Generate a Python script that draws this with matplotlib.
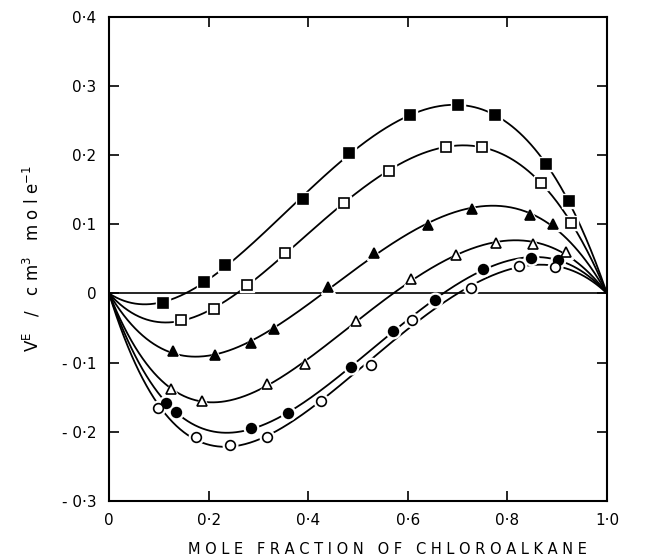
import numpy as np
import matplotlib.pyplot as plt
from matplotlib.ticker import FixedLocator, FixedFormatter

# filled squares
x_fsq = [0.108, 0.191, 0.233, 0.390, 0.481, 0.605, 0.700, 0.776, 0.877, 0.923]
y_fsq = [-0.014, 0.016, 0.041, 0.137, 0.203, 0.258, 0.272, 0.258, 0.187, 0.134]
# open squares
x_osq = [0.144, 0.211, 0.278, 0.354, 0.472, 0.562, 0.677, 0.750, 0.868, 0.927]
y_osq = [-0.039, -0.023, 0.012, 0.059, 0.130, 0.177, 0.212, 0.212, 0.160, 0.102]
# filled triangles
x_ftr = [0.128, 0.213, 0.285, 0.332, 0.440, 0.532, 0.641, 0.729, 0.845, 0.891]
y_ftr = [-0.083, -0.089, -0.072, -0.052, 0.009, 0.058, 0.099, 0.122, 0.114, 0.101]
# open triangles
x_otr = [0.125, 0.186, 0.318, 0.393, 0.497, 0.607, 0.697, 0.778, 0.851, 0.917]
y_otr = [-0.138, -0.156, -0.131, -0.102, -0.040, 0.021, 0.055, 0.073, 0.072, 0.060]
# filled circles
x_fci = [0.114, 0.134, 0.286, 0.360, 0.485, 0.570, 0.654, 0.751, 0.847, 0.901]
y_fci = [-0.158, -0.171, -0.195, -0.173, -0.107, -0.054, -0.010, 0.035, 0.051, 0.049]
# open circles
x_oci = [0.099, 0.174, 0.243, 0.318, 0.425, 0.527, 0.609, 0.726, 0.823, 0.895]
y_oci = [-0.166, -0.208, -0.219, -0.207, -0.155, -0.103, -0.038, 0.008, 0.040, 0.038]

series = [
    (x_fsq, y_fsq, 's', 'black'),
    (x_osq, y_osq, 's', 'white'),
    (x_ftr, y_ftr, '^', 'black'),
    (x_otr, y_otr, '^', 'white'),
    (x_fci, y_fci, 'o', 'black'),
    (x_oci, y_oci, 'o', 'white'),
]


def rk_fit(x, y, order=4):
    # Redlich-Kister type smoothing curve: x(1-x) * sum a_k (2x-1)^k
    x = np.asarray(x)
    y = np.asarray(y)
    A = np.column_stack([x * (1 - x) * (2 * x - 1) ** k for k in range(order)])
    coef, *_ = np.linalg.lstsq(A, y, rcond=None)
    xx = np.linspace(0, 1, 400)
    B = np.column_stack([xx * (1 - xx) * (2 * xx - 1) ** k for k in range(order)])
    return xx, B @ coef


fig = plt.figure(figsize=(6.45, 5.59), dpi=100)
ax = fig.add_axes([0.169, 0.104, 0.772, 0.866])

ax.axhline(0, color='black', lw=1.2, zorder=1)

for x, y, m, fc in series:
    xx, yy = rk_fit(x, y)
    ax.plot(xx, yy, color='black', lw=1.3, zorder=2)
    # white halo so the line breaks around each marker
    ax.plot(x, y, ls='none', marker=m, ms=10.5, mfc='white', mec='white', zorder=3)
    ax.plot(x, y, ls='none', marker=m, ms=7, mfc=fc, mec='black', mew=1.2, zorder=4)

ax.set_xlim(0, 1.0)
ax.set_ylim(-0.3, 0.4)

xt = [0, 0.2, 0.4, 0.6, 0.8, 1.0]
yt = [-0.3, -0.2, -0.1, 0, 0.1, 0.2, 0.3, 0.4]
ax.xaxis.set_major_locator(FixedLocator(xt))
ax.xaxis.set_major_formatter(FixedFormatter(['0', '0·2', '0·4', '0·6', '0·8', '1·0']))
ax.yaxis.set_major_locator(FixedLocator(yt))
ax.yaxis.set_major_formatter(FixedFormatter(['- 0·3', '- 0·2', '- 0·1', '0',
                                             '0·1', '0·2', '0·3', '0·4']))

ax.tick_params(direction='in', length=7, width=1.2, top=True, right=True,
               labeltop=False, labelright=False, labelsize=11, pad=9)
for s in ax.spines.values():
    s.set_linewidth(1.5)

ax.set_xlabel('M O L E   F R A C T I O N   O F   C H L O R O A L K A N E',
              fontsize=10.5, labelpad=8)
ax.xaxis.set_label_coords(0.56, -0.085)
ax.set_ylabel(r'V$^{\mathrm{E}}$   /   c m$^{3}$   m o l e$^{-1}$',
              fontsize=12, labelpad=14)

fig.savefig('out.png', dpi=100)
